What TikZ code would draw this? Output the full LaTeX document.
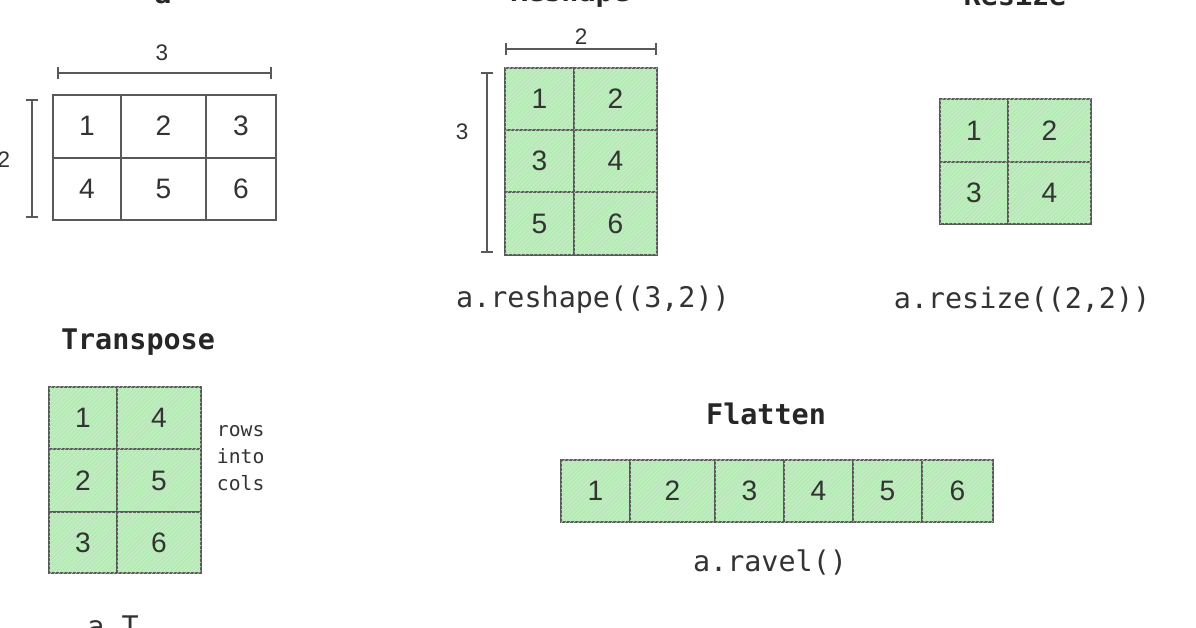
\documentclass[tikz,border=0pt]{standalone}
\usepackage{fontspec}
\setmainfont{Liberation Sans}
\setmonofont{DejaVu Sans Mono}
\usetikzlibrary{patterns}
\tikzset{
  cell/.style={draw=black!65, line width=1.2pt},
  green cell/.style={cell, fill={rgb,255:red,186;green,240;blue,186}},
  hatch/.style={pattern=north east lines, pattern color=green!45!black!25},
  dim/.style={draw=black!65, line width=1.2pt, |-|},
  num/.style={font=\fontsize{20}{22}\selectfont, text=black!80},
  code/.style={font=\ttfamily\fontsize{20.2}{24}\selectfont, text=black!80},
  title/.style={font=\ttfamily\bfseries\fontsize{20.2}{24}\selectfont, text=black!85},
}
\begin{document}
\begin{tikzpicture}[x=0.025cm, y=-0.025cm]
  \useasboundingbox (0,0) rectangle (1196,628);

  % array a
  \node[title] (t_a) at (163,-4) {a};
  \foreach \xa/\xb/\n [count=\i] in {53/121/1,121/206/2,206/276/3} {
    \draw[cell] (\xa,95) rectangle (\xb,158);
    \node[num] (a_\i) at ({(\xa+\xb)/2},126) {\n};
  }
  \foreach \xa/\xb/\n [count=\i] in {53/121/4,121/206/5,206/276/6}
    \draw[cell] (\xa,158) rectangle (\xb,220) node[num, midway] (a_b\i) {\n};
  \coordinate (a_w1) at (57,73);
  \coordinate (a_w2) at (272,73);
  \draw[dim] (a_w1) -- (a_w2);
  \node[num, font=\fontsize{16}{18}\selectfont] (a_wl) at (162,53) {3};
  \coordinate (a_h1) at (32,99);
  \coordinate (a_h2) at (32,218);
  \draw[dim] (a_h1) -- (a_h2);
  \node[num, font=\fontsize{16}{18}\selectfont] (a_hl) at (4,160) {2};

  % reshape
  \node[title] (t_rs) at (570,-6) {Reshape};
  \foreach \ya/\yb [count=\r] in {68/130,130/192,192/255}
    \foreach \xa/\xb [count=\c] in {505/574,574/657} {
      \pgfmathtruncatemacro{\n}{(\r-1)*2+\c}
      \draw[green cell] (\xa,\ya) rectangle (\xb,\yb);
      \fill[hatch] (\xa,\ya) rectangle (\xb,\yb);
      \node[num] (rs_\n) at ({(\xa+\xb)/2},{(\ya+\yb)/2}) {\n};
    }
  \coordinate (rs_w1) at (505,49);
  \coordinate (rs_w2) at (657,49);
  \draw[dim] (rs_w1) -- (rs_w2);
  \node[num, font=\fontsize{16}{18}\selectfont] (rs_wl) at (581,37) {2};
  \coordinate (rs_h1) at (487,72);
  \coordinate (rs_h2) at (487,253);
  \draw[dim] (rs_h1) -- (rs_h2);
  \node[num, font=\fontsize{16}{18}\selectfont] (rs_hl) at (462,132) {3};
  \node[code] (c_rs) at (593,300) {a.reshape((3,2))};

  % resize
  \node[title] (t_rz) at (1015,-6) {Resize};
  \foreach \ya/\yb [count=\r] in {99/162,162/224}
    \foreach \xa/\xb [count=\c] in {940/1008,1008/1091} {
      \pgfmathtruncatemacro{\n}{(\r-1)*2+\c}
      \draw[green cell] (\xa,\ya) rectangle (\xb,\yb);
      \fill[hatch] (\xa,\ya) rectangle (\xb,\yb);
      \node[num] (rz_\n) at ({(\xa+\xb)/2},{(\ya+\yb)/2}) {\n};
    }
  \node[code] (c_rz) at (1022,300) {a.resize((2,2))};

  % transpose
  \node[title] (t_tr) at (138,342) {Transpose};
  \foreach \ya/\yb [count=\r] in {387/449,449/512,512/573}
    \foreach \xa/\xb [count=\c] in {49/117,117/201} {
      \pgfmathtruncatemacro{\n}{\r+(\c-1)*3}
      \draw[green cell] (\xa,\ya) rectangle (\xb,\yb);
      \fill[hatch] (\xa,\ya) rectangle (\xb,\yb);
      \node[num] (tr_\n) at ({(\xa+\xb)/2},{(\ya+\yb)/2}) {\n};
    }
  \node[code, font=\ttfamily\fontsize{14}{19}\selectfont, align=left, anchor=west]
    (tr_note) at (212,458) {rows\\into\\cols};
  \node[code] (c_tr) at (113,626) {a.T};

  % flatten
  \node[title] (t_fl) at (766,414) {Flatten};
  \foreach \xa/\xb [count=\i] in {561/630,630/715,715/784,784/853,853/922,922/993} {
    \draw[green cell] (\xa,460) rectangle (\xb,522);
    \fill[hatch] (\xa,460) rectangle (\xb,522);
    \node[num] (fl_\i) at ({(\xa+\xb)/2},491) {\i};
  }
  \node[code] (c_fl) at (770,563) {a.ravel()};
\end{tikzpicture}
\end{document}
